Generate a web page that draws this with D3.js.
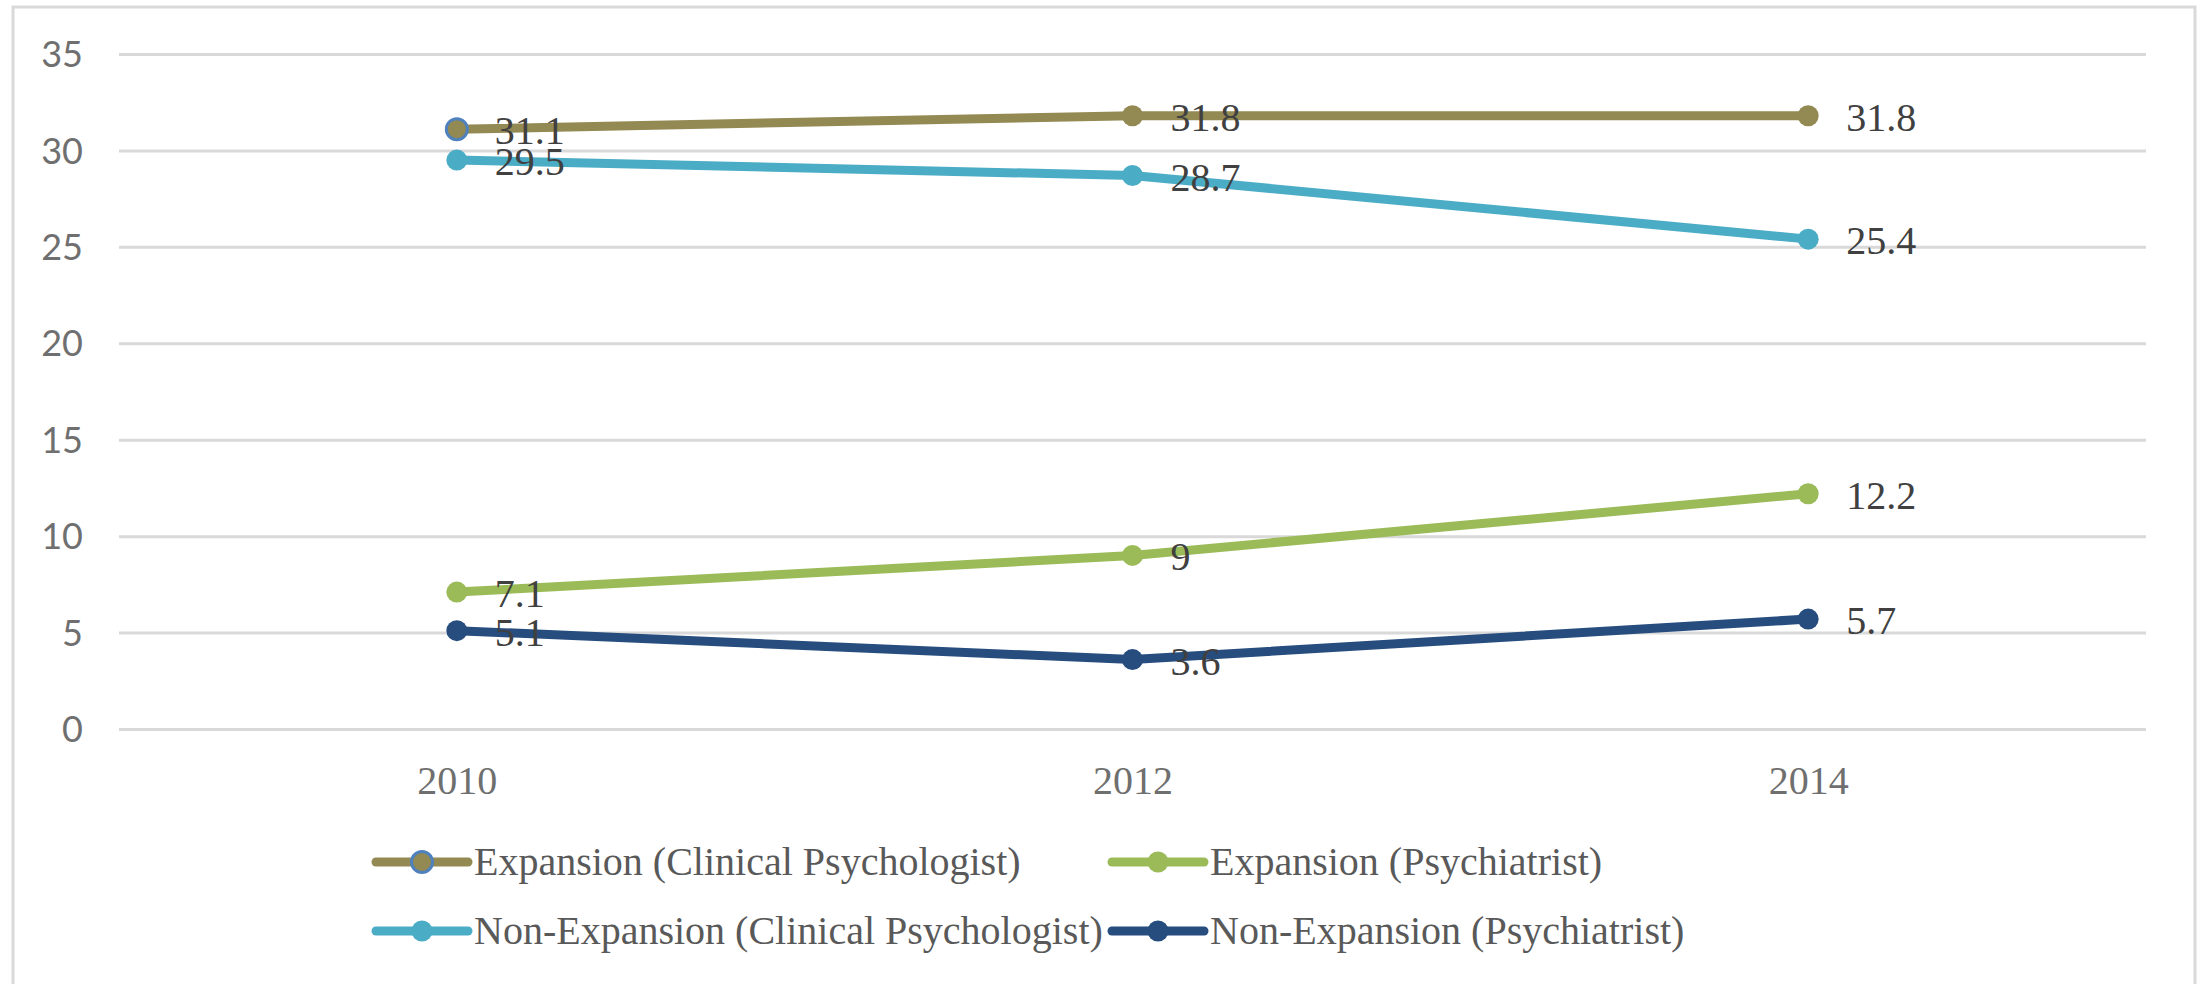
<!DOCTYPE html>
<html>
<head>
<meta charset="utf-8">
<script src="https://cdn.jsdelivr.net/npm/d3@7"></script>
<style>
  html, body { margin: 0; padding: 0; background: #ffffff; }
  svg { display: block; }
</style>
</head>
<body>
<svg id="chart" width="2201" height="984"></svg>
<script>
// ---- data ----
const years = ["2010", "2012", "2014"];
const yTicks = [0, 5, 10, 15, 20, 25, 30, 35];
const seriesNames = [
  "Expansion (Clinical Psychologist)",
  "Expansion (Psychiatrist)",
  "Non-Expansion (Clinical Psychologist)",
  "Non-Expansion (Psychiatrist)"
];
const expansionClinical = [31.1, 31.8, 31.8];
const expansionPsychiatrist = [7.1, 9, 12.2];
const nonExpansionClinical = [29.5, 28.7, 25.4];
const nonExpansionPsychiatrist = [5.1, 3.6, 5.7];
const seriesColors = ["#938953", "#9bbb59", "#4bacc6", "#264d7e"];

const seriesValues = [expansionClinical, expansionPsychiatrist, nonExpansionClinical, nonExpansionPsychiatrist];
const series = seriesNames.map((name, i) => ({
  name, color: seriesColors[i],
  values: seriesValues[i].map((v, j) => ({ year: years[j], value: v }))
}));

// ---- layout ----
const svg = d3.select("#chart");
const plotLeft = 119, plotRight = 2146, plotTop = 54, plotBottom = 729;
const serif = "'Liberation Serif', 'DejaVu Serif', serif";
const sans = "Lato, 'Liberation Sans', sans-serif";

// outer border
svg.append("rect")
  .attr("x", 13).attr("y", 7)
  .attr("width", 2182).attr("height", 1010)
  .attr("fill", "none").attr("stroke", "#d9d9d9").attr("stroke-width", 3);

const x = d3.scalePoint().domain(years).range([plotLeft, plotRight]).padding(0.5);
const y = d3.scaleLinear().domain([0, 35]).range([plotBottom, plotTop]);

// gridlines + y tick labels
const yAxis = d3.axisLeft(y).tickValues(yTicks).tickSize(-(plotRight - plotLeft)).tickPadding(36).tickFormat(d3.format("d"));
const gy = svg.append("g").attr("transform", `translate(${plotLeft},0)`).call(yAxis);
gy.select(".domain").remove();
gy.selectAll(".tick line").attr("stroke", "#d9d9d9").attr("stroke-width", 3);
gy.selectAll(".tick text")
  .attr("fill", "#6f6f6f").style("font-family", sans).style("font-size", "36px")
  .attr("dy", "0.35em");

// x axis labels
const xAxis = d3.axisBottom(x).tickSize(0).tickPadding(0);
const gx = svg.append("g").attr("transform", `translate(0,${plotBottom})`).call(xAxis);
gx.select(".domain").remove();
gx.selectAll(".tick text")
  .attr("fill", "#6f6f6f").style("font-family", serif).style("font-size", "40px")
  .attr("y", 51).attr("dy", "0.35em");

// lines
const line = d3.line().x(d => x(d.year)).y(d => y(d.value));
const gSeries = svg.append("g");
series.forEach((s, i) => {
  const g = gSeries.append("g");
  g.append("path").datum(s.values)
    .attr("d", line).attr("fill", "none")
    .attr("stroke", s.color).attr("stroke-width", 9)
    .attr("stroke-linejoin", "round");
  g.selectAll("circle").data(s.values).enter().append("circle")
    .attr("cx", d => x(d.year)).attr("cy", d => y(d.value))
    .attr("r", 10.5)
    .attr("fill", s.color)
    .attr("stroke", (d, j) => (i === 0 && j === 0) ? "#4f81bd" : "none")
    .attr("stroke-width", 3);
});

// data labels
const gLabels = svg.append("g");
series.forEach(s => {
  gLabels.selectAll(null).data(s.values).enter().append("text")
    .attr("x", d => x(d.year) + 38).attr("y", d => y(d.value) + 1)
    .attr("dy", "0.35em")
    .attr("fill", "#404040")
    .style("font-family", serif).style("font-size", "40px")
    .text(d => d.value);
});

// legend
const legendCols = [376, 1112];
const legendRows = [862, 931];
const legend = svg.append("g");
series.forEach((s, i) => {
  const lx = legendCols[i % 2], ly = legendRows[Math.floor(i / 2)];
  const g = legend.append("g").attr("transform", `translate(${lx},${ly})`);
  g.append("line").attr("x1", 0).attr("x2", 92).attr("y1", 0).attr("y2", 0)
    .attr("stroke", s.color).attr("stroke-width", 9).attr("stroke-linecap", "round");
  g.append("circle").attr("cx", 46).attr("cy", 0).attr("r", 10.5)
    .attr("fill", s.color)
    .attr("stroke", i === 0 ? "#4f81bd" : "none").attr("stroke-width", 3);
  g.append("text").attr("x", 98).attr("y", 0).attr("dy", "0.33em")
    .attr("fill", "#595959")
    .style("font-family", serif).style("font-size", "40px")
    .text(s.name);
});
</script>
</body>
</html>
